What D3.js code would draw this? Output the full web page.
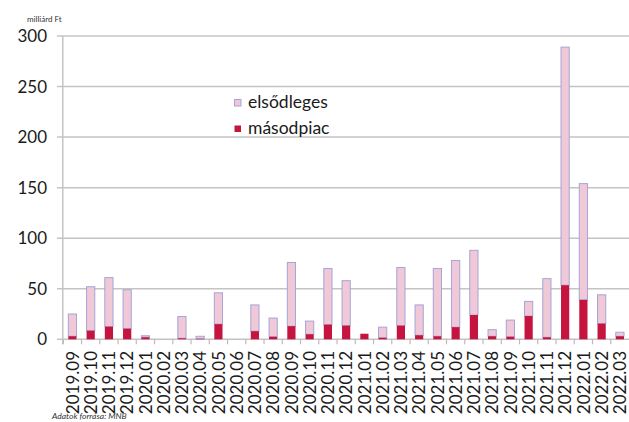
<!DOCTYPE html>
<html><head><meta charset="utf-8">
<script src="https://cdn.jsdelivr.net/npm/d3@7"></script>
<style>body{margin:0;background:#fff}svg{display:block}text{font-family:Lato,"Open Sans",sans-serif}</style>
</head><body>
<svg id="c" width="629" height="422"></svg>
<script>
const categories = ["2019.09","2019.10","2019.11","2019.12","2020.01","2020.02","2020.03","2020.04","2020.05","2020.06","2020.07","2020.08","2020.09","2020.10","2020.11","2020.12","2021.01","2021.02","2021.03","2021.04","2021.05","2021.06","2021.07","2021.08","2021.09","2021.10","2021.11","2021.12","2022.01","2022.02","2022.03"];
const masodpiac = [3, 8.5, 12.5, 10.5, 2, 0, 1, 0.5, 15, 0, 8, 2.5, 13, 5, 14.5, 13.5, 5.5, 1.5, 13.5, 4, 3, 12, 24, 3, 2.5, 23, 2, 53.5, 39, 15.5, 3];
const elsodleges = [22, 43.5, 48.5, 38.5, 1.5, 0, 21.5, 2.5, 31, 0, 26, 18.5, 63, 13, 55.5, 44.5, 0, 10.5, 57.5, 30, 67, 66, 64, 6.5, 16.5, 14.5, 58, 235.5, 115, 28.5, 4];
const yTicks = [0, 50, 100, 150, 200, 250, 300];
const seriesNames = ["elsődleges", "másodpiac"];

const svg = d3.select("#c");
const x = d3.scaleBand().domain(categories).range([63.3, 629]).paddingInner(0.55).paddingOuter(0.275);
const y = d3.scaleLinear().domain([0, 300]).range([339.3, 36]);
const light = "#f0c8d7", dark = "#c4143f", lightStroke = "#a3a6d8", grid = "#c4c4c4";

// gridlines
svg.append("g").selectAll("line").data(yTicks).join("line")
  .attr("x1", 57).attr("x2", 629).attr("y1", d => y(d)).attr("y2", d => y(d))
  .attr("stroke", grid).attr("stroke-width", 1.5);
// y labels
svg.append("g").selectAll("text").data(yTicks).join("text")
  .attr("x", 47).attr("y", d => y(d)).attr("dy", "0.36em").attr("text-anchor", "end")
  .attr("font-size", 17).attr("fill", "#1a1a1a").text(d => d);
// left axis line
svg.append("line").attr("x1", 62.8).attr("x2", 62.8).attr("y1", y(300)).attr("y2", y(0) + 5)
  .attr("stroke", grid).attr("stroke-width", 1.5);
// x tick marks at band boundaries
const step = x.step();
const bounds = categories.map(c => x(c) - (step - x.bandwidth()) / 2);
svg.append("g").selectAll("line").data(bounds).join("line")
  .attr("x1", d => d).attr("x2", d => d).attr("y1", y(0)).attr("y2", y(0) + 5)
  .attr("stroke", "#c9b4ba").attr("stroke-width", 1.2);

// stacked bars
const g = svg.append("g");
categories.forEach((c, i) => {
  const m = masodpiac[i], e = elsodleges[i];
  if (e > 0) {
    g.append("rect").attr("x", x(c)).attr("width", x.bandwidth())
      .attr("y", y(m + e)).attr("height", y(m) - y(m + e))
      .attr("fill", light).attr("stroke", lightStroke).attr("stroke-width", 1);
  }
  if (m > 0) {
    g.append("rect").attr("x", x(c)).attr("width", x.bandwidth())
      .attr("y", y(m)).attr("height", y(0) - y(m))
      .attr("fill", dark);
  }
});

// x labels
svg.append("g").selectAll("text").data(categories).join("text")
  .attr("transform", d => `translate(${x(d) + x.bandwidth() / 2},351) rotate(-90)`)
  .attr("text-anchor", "end").attr("dy", "0.36em").attr("font-size", 17).attr("fill", "#1a1a1a")
  .text(d => d);

// legend
const leg = svg.append("g");
[[light, lightStroke], [dark, "none"]].forEach((s, i) => {
  leg.append("rect").attr("x", 234.5).attr("y", 99.5 + i * 26).attr("width", 6.5).attr("height", 6.5)
    .attr("fill", s[0]).attr("stroke", s[1]).attr("stroke-width", 1);
  leg.append("text").attr("x", 248).attr("y", 108 + i * 25.5).attr("font-size", 17.5).attr("fill", "#1a1a1a")
    .text(seriesNames[i]);
});

// unit + source
svg.append("text").attr("x", 27).attr("y", 22).attr("font-size", 8).attr("fill", "#333").text("milliárd Ft");
svg.append("text").attr("x", 52).attr("y", 419).attr("font-size", 8.5).attr("font-style", "italic").attr("fill", "#333").text("Adatok forrása: MNB");
</script>
</body></html>
